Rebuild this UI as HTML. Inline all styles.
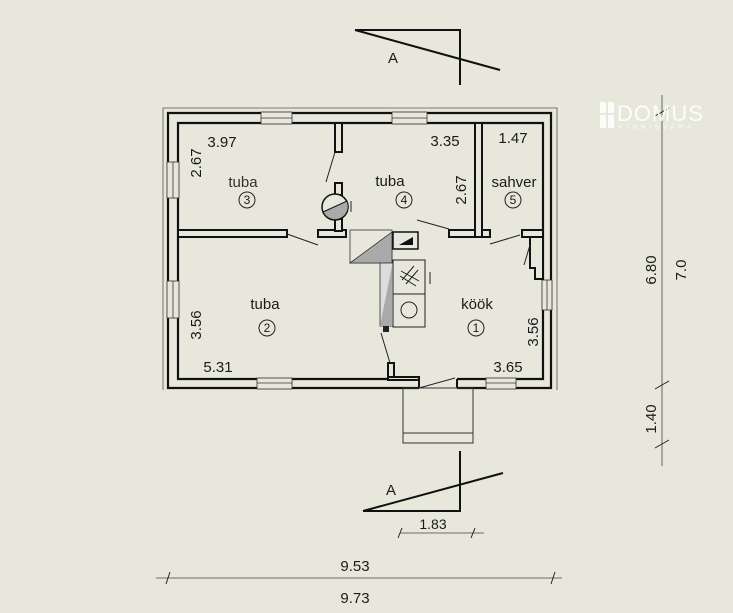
<!DOCTYPE html>
<html><head><style>
html,body{margin:0;padding:0;background:#e8e7dc;}
svg{display:block;}
text{font-family:"Liberation Sans",sans-serif;}
</style></head><body>
<svg width="733" height="613" viewBox="0 0 733 613" xmlns="http://www.w3.org/2000/svg">
<rect width="733" height="613" fill="#e8e7dc"/>
<!-- thin outline -->
<polyline points="163,390 163,108 557,108 557,390" fill="none" stroke="#555" stroke-width="0.8"/>
<!-- walls -->
<g fill="#e8e7dc" stroke="#111" stroke-width="2.2">
<path d="M168,113 H551 V388 H168 Z M178,123 V379 H543 V123 Z" fill-rule="evenodd"/>
</g>
<!-- windows (cover wall) -->
<g fill="#e8e7dc" stroke="#333" stroke-width="0.8">
<rect x="261" y="112" width="31" height="12"/><line x1="261" y1="118" x2="292" y2="118"/>
<rect x="392" y="112" width="35" height="12"/><line x1="392" y1="118" x2="427" y2="118"/>
<rect x="167" y="162" width="12" height="36"/><line x1="173" y1="162" x2="173" y2="198"/>
<rect x="167" y="281" width="12" height="37"/><line x1="173" y1="281" x2="173" y2="318"/>
<rect x="542" y="280" width="10" height="30"/><line x1="547" y1="280" x2="547" y2="310"/>
<rect x="257" y="378" width="35" height="11"/><line x1="257" y1="383" x2="292" y2="383"/>
<rect x="486" y="378" width="30" height="11"/><line x1="486" y1="383" x2="516" y2="383"/>
</g>
<!-- door gap bottom -->
<rect x="419" y="377" width="38" height="13" fill="#e8e7dc"/>
<g stroke="#111" stroke-width="2" fill="none">
<line x1="419" y1="379" x2="419" y2="388"/><line x1="457" y1="379" x2="457" y2="388"/>
</g>
<line x1="419" y1="388" x2="455" y2="378" stroke="#222" stroke-width="1"/>
<!-- interior walls -->
<g fill="#e8e7dc" stroke="#111" stroke-width="2">
<rect x="178" y="230" width="109" height="7"/>
<rect x="318" y="230" width="28" height="7"/>
<rect x="335" y="123" width="7" height="29"/>
<rect x="335" y="183" width="7" height="12"/>
<rect x="335" y="219" width="7" height="12"/>
<rect x="449" y="230" width="33" height="7"/>
<rect x="475" y="123" width="7" height="114"/>
<rect x="482" y="230" width="8" height="7"/>
<rect x="522" y="230" width="21" height="7"/>
<path d="M530,237 H543 V279 H535 V268 H530 Z"/>
<rect x="388" y="363" width="6" height="17"/>
<rect x="388" y="377" width="31" height="3"/>
</g>
<!-- door leaves -->
<g stroke="#222" stroke-width="1">
<line x1="287" y1="234" x2="318" y2="245"/>
<line x1="335" y1="152" x2="326" y2="182"/>
<line x1="449" y1="229" x2="417" y2="220"/>
<line x1="490" y1="244" x2="520" y2="235"/>
<line x1="530" y1="245" x2="524" y2="265"/>
<line x1="390" y1="363" x2="381" y2="333"/>
</g>
<!-- chimney circle -->
<circle cx="335" cy="207" r="13" fill="#e8e7dc" stroke="#111" stroke-width="1.5"/>
<path d="M323,212 L347,201 A13,13 0 0 1 323,212Z" fill="#aaa" stroke="#111" stroke-width="1"/>
<line x1="351" y1="201" x2="351" y2="212" stroke="#222"/>
<!-- stove area -->
<rect x="350" y="230" width="42" height="33" fill="none" stroke="#333" stroke-width="0.8"/>
<polygon points="350,263 392,232 392,263" fill="#aaa" stroke="#333" stroke-width="0.8"/>
<rect x="393" y="232" width="25" height="17" fill="#e8e7dc" stroke="#111" stroke-width="1.5"/>
<polygon points="399,245 413,237 413,245" fill="#111"/>
<rect x="380" y="263" width="13" height="63" fill="#ddd" stroke="#333" stroke-width="0.8"/>
<polygon points="380,326 392,266 392,326" fill="#aaa"/>
<rect x="383" y="326" width="6" height="6" fill="#222"/>
<rect x="393" y="260" width="32" height="67" fill="#e8e7dc" stroke="#222" stroke-width="1"/>
<line x1="393" y1="294" x2="425" y2="294" stroke="#222"/>
<g stroke="#222" stroke-width="1">
<line x1="402" y1="280" x2="414" y2="266"/><line x1="406" y1="284" x2="418" y2="270"/>
<line x1="401" y1="271" x2="419" y2="281"/><line x1="400" y1="276" x2="416" y2="286"/>
<line x1="430" y1="272" x2="430" y2="284"/>
</g>
<circle cx="409" cy="310" r="8" fill="none" stroke="#222"/>
<!-- porch -->
<rect x="403" y="388" width="70" height="55" fill="none" stroke="#333" stroke-width="1"/>
<line x1="403" y1="433" x2="473" y2="433" stroke="#333" stroke-width="1"/>
<!-- labels -->
<g font-size="15" fill="#1a1a1a">
<text x="222" y="147" text-anchor="middle">3.97</text>
<text x="243" y="187" text-anchor="middle" fill="#333">tuba</text>
<text x="445" y="146" text-anchor="middle">3.35</text>
<text x="390" y="186" text-anchor="middle">tuba</text>
<text x="513" y="143" text-anchor="middle">1.47</text>
<text x="514" y="187" text-anchor="middle">sahver</text>
<text x="265" y="309" text-anchor="middle">tuba</text>
<text x="218" y="372" text-anchor="middle">5.31</text>
<text x="477" y="309" text-anchor="middle">köök</text>
<text x="508" y="372" text-anchor="middle">3.65</text>
<text transform="translate(201,163) rotate(-90)" text-anchor="middle">2.67</text>
<text transform="translate(466,190) rotate(-90)" text-anchor="middle">2.67</text>
<text transform="translate(201,325) rotate(-90)" text-anchor="middle">3.56</text>
<text transform="translate(538,332) rotate(-90)" text-anchor="middle">3.56</text>
<text transform="translate(656,270) rotate(-90)" text-anchor="middle">6.80</text>
<text transform="translate(686,270) rotate(-90)" text-anchor="middle">7.0</text>
<text transform="translate(656,419) rotate(-90)" text-anchor="middle">1.40</text>
<text x="355" y="571" text-anchor="middle">9.53</text>
<text x="355" y="603" text-anchor="middle">9.73</text>
<text x="433" y="529" text-anchor="middle" font-size="14">1.83</text>
<text x="393" y="63" text-anchor="middle">A</text>
<text x="391" y="495" text-anchor="middle">A</text>
</g>
<g fill="none" stroke="#222" stroke-width="1">
<circle cx="247" cy="200" r="8"/><circle cx="404" cy="200" r="8"/><circle cx="513" cy="200" r="8"/>
<circle cx="267" cy="328" r="8"/><circle cx="476" cy="328" r="8"/>
</g>
<g font-size="12" text-anchor="middle" fill="#1a1a1a">
<text x="247" y="204">3</text><text x="404" y="204">4</text><text x="513" y="204">5</text>
<text x="267" y="332">2</text><text x="476" y="332">1</text>
</g>
<!-- section markers -->
<g stroke="#111" stroke-width="2" fill="none">
<polyline points="355,30 460,30 460,85"/>
<line x1="355" y1="30" x2="500" y2="70"/>
<polyline points="460,451 460,511 363,511"/>
<line x1="363" y1="511" x2="503" y2="473"/>
</g>
<!-- dimension lines -->
<g stroke="#444" stroke-width="0.8">
<line x1="662" y1="95" x2="662" y2="466"/>
<line x1="156" y1="578" x2="562" y2="578"/>
<line x1="400" y1="533" x2="484" y2="533"/>
</g>
<g stroke="#222" stroke-width="1">
<line x1="655" y1="116" x2="669" y2="108"/>
<line x1="655" y1="389" x2="669" y2="381"/>
<line x1="655" y1="448" x2="669" y2="440"/>
<line x1="166" y1="584" x2="170" y2="572"/>
<line x1="551" y1="584" x2="555" y2="572"/>
<line x1="398" y1="538" x2="402" y2="528"/>
<line x1="471" y1="538" x2="475" y2="528"/>
</g>
<!-- logo -->
<g fill="#ffffff" opacity="0.9">
<rect x="600" y="102" width="6" height="11"/><rect x="608" y="102" width="6" height="11"/>
<rect x="600" y="115" width="6" height="13"/><rect x="608" y="115" width="6" height="13"/>
<text x="617" y="121" font-size="22" style="fill:#ffffff" letter-spacing="1">DOMUS</text>
<text x="619" y="129" font-size="6" style="fill:#ffffff" letter-spacing="4">KINNISVARA</text>
</g>
</svg>
</body></html>
